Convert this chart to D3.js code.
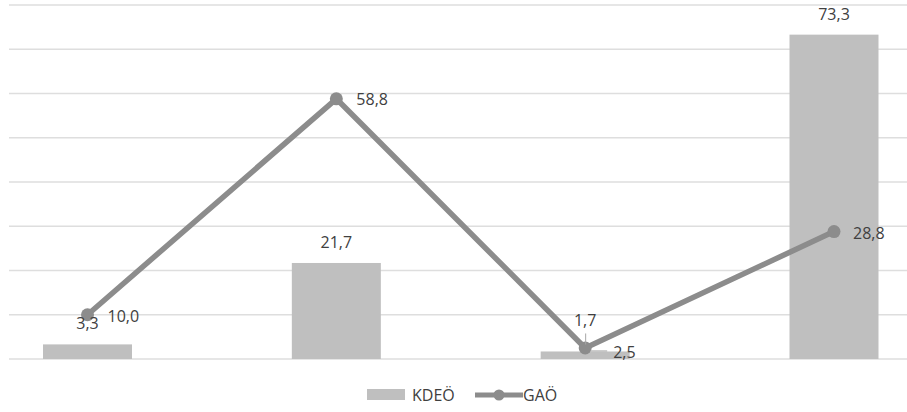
<!DOCTYPE html>
<html>
<head>
<meta charset="utf-8">
<script src="https://cdn.jsdelivr.net/npm/d3@7"></script>
<style>
  html, body { margin: 0; padding: 0; background: #fff; }
  svg { display: block; font-family: "Open Sans", "Liberation Sans", sans-serif; }
</style>
</head>
<body>
<svg id="chart" width="907" height="412"></svg>
<script>
// ---- data ----
const categories = ["1", "2", "3", "4"];
const kdeoValues = [3.3, 21.7, 1.7, 73.3];
const gaoValues = [10.0, 58.8, 2.5, 28.8];
const seriesNames = ["KDEÖ", "GAÖ"];
const yTicks = [0, 10, 20, 30, 40, 50, 60, 70, 80];

// ---- layout ----
const W = 907, H = 412;
const plotLeft = 9, plotRight = 907, plotTop = 5, plotBottom = 359;
const barColor = "#bfbfbf", lineColor = "#8c8c8c", textColor = "#404040", gridColor = "#dedede";
const fmt = v => v.toFixed(1).replace(".", ",");

const svg = d3.select("#chart");

const y = d3.scaleLinear().domain([0, 80]).range([plotBottom, plotTop]);
const x = d3.scalePoint().domain(categories).range([87.5, 834]);
const barW = 89;

// gridlines
svg.append("g").selectAll("line").data(yTicks).join("line")
  .attr("x1", plotLeft).attr("x2", plotRight)
  .attr("y1", d => y(d)).attr("y2", d => y(d))
  .attr("stroke", gridColor).attr("stroke-width", 1.5);

// bars
svg.append("g").selectAll("rect").data(kdeoValues).join("rect")
  .attr("x", (d, i) => x(categories[i]) - barW / 2)
  .attr("width", barW)
  .attr("y", d => y(d))
  .attr("height", d => y(0) - y(d))
  .attr("fill", barColor);

// line
const line = d3.line().x((d, i) => x(categories[i])).y(d => y(d));
svg.append("path").datum(gaoValues)
  .attr("d", line)
  .attr("fill", "none").attr("stroke", lineColor)
  .attr("stroke-width", 5.5).attr("stroke-linejoin", "round");

svg.append("g").selectAll("circle").data(gaoValues).join("circle")
  .attr("cx", (d, i) => x(categories[i]))
  .attr("cy", d => y(d))
  .attr("r", 6.5)
  .attr("fill", lineColor);

// bar labels (the third one is lifted with a leader line, as in the original)
const barLabelLift = [0, 0, 10, 0];
svg.append("g").selectAll("text").data(kdeoValues).join("text")
  .attr("x", (d, i) => x(categories[i]))
  .attr("y", (d, i) => y(d) - 21 - barLabelLift[i])
  .attr("text-anchor", "middle").attr("dominant-baseline", "central")
  .attr("font-size", 16).attr("fill", textColor)
  .text(fmt);

// line labels (the third one nudged right/down with a leader line)
const lineLabelDx = [20, 20, 28, 19];
const lineLabelDy = [1, 0, 4, 1];
svg.append("g").selectAll("text").data(gaoValues).join("text")
  .attr("x", (d, i) => x(categories[i]) + lineLabelDx[i])
  .attr("y", (d, i) => y(d) + lineLabelDy[i])
  .attr("text-anchor", "start").attr("dominant-baseline", "central")
  .attr("font-size", 16).attr("fill", textColor)
  .text(fmt);

// leader lines
const c3 = x(categories[2]);
svg.append("line")
  .attr("x1", c3 + 0.5).attr("x2", c3 + 0.5)
  .attr("y1", y(kdeoValues[2]) - 18).attr("y2", y(kdeoValues[2]) - 7)
  .attr("stroke", "#a6a6a6").attr("stroke-width", 1);
svg.append("line")
  .attr("x1", c3 + 5).attr("x2", c3 + 22)
  .attr("y1", y(gaoValues[2]) + 3).attr("y2", y(gaoValues[2]) + 3)
  .attr("stroke", "#a6a6a6").attr("stroke-width", 1);

// legend
const lg = svg.append("g");
lg.append("rect").attr("x", 367).attr("y", 389).attr("width", 38).attr("height", 11).attr("fill", barColor);
lg.append("text").attr("x", 412).attr("y", 395).attr("dominant-baseline", "central")
  .attr("font-size", 16).attr("fill", textColor).text(seriesNames[0]);
lg.append("line").attr("x1", 475).attr("x2", 523).attr("y1", 395).attr("y2", 395)
  .attr("stroke", lineColor).attr("stroke-width", 5);
lg.append("circle").attr("cx", 499).attr("cy", 395).attr("r", 5.5).attr("fill", lineColor);
lg.append("text").attr("x", 523).attr("y", 395).attr("dominant-baseline", "central")
  .attr("font-size", 16).attr("fill", textColor).text(seriesNames[1]);
</script>
</body>
</html>
